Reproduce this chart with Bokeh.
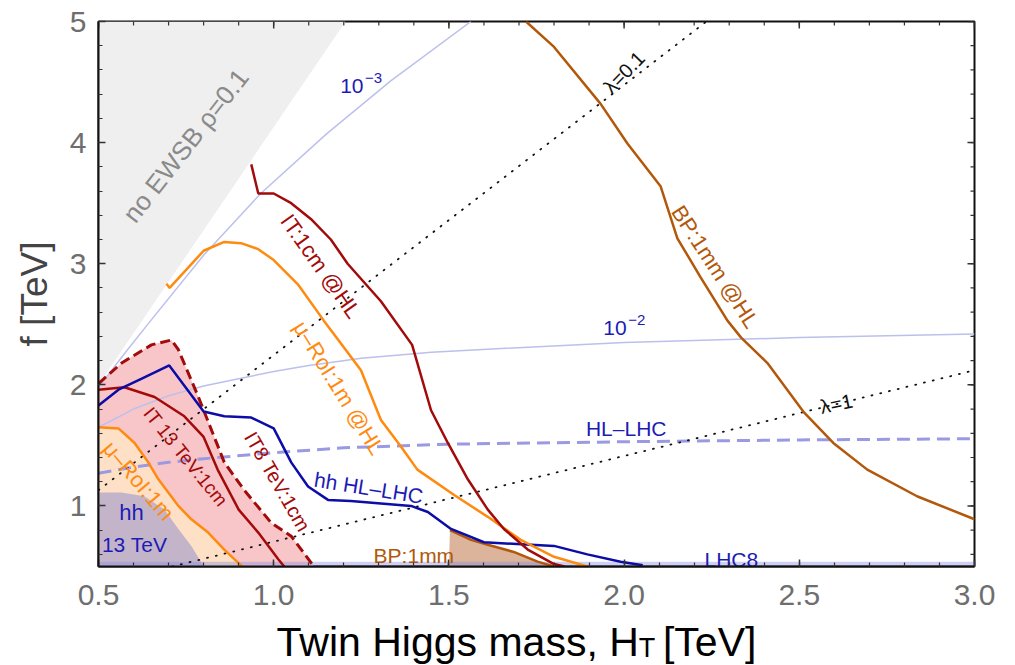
import numpy as np
from bokeh.plotting import figure
from bokeh.models import Range1d, FixedTicker
from bokeh.layouts import column
from bokeh.core.properties import value
from bokeh.embed import file_html
from bokeh.resources import INLINE

# ---------------- data ----------------
# shaded "no EWSB rho=0.1" region
noewsb_x = [0.5, 1.205, 0.5]
noewsb_y = [2.0, 5.0, 5.0]

# light blue contours 10^-3 and 10^-2
c3_x = [0.5, 0.58, 0.649, 0.8, 0.963, 1.15, 1.334, 1.563]
c3_y = [1.98, 2.28, 2.53, 3.07, 3.58, 4.07, 4.51, 5.0]
c2_x = [0.5, 0.6, 0.7, 0.8, 0.9, 1.0, 1.1, 1.25, 1.45, 1.65, 2.0, 2.5, 3.0]
c2_y = [1.65, 1.80, 1.91, 1.99, 2.05, 2.11, 2.16, 2.22, 2.27, 2.30, 2.35, 2.39, 2.42]

# HL-LHC dashed contour
hl_x = [0.5, 0.6, 0.7, 0.8, 1.0, 1.2, 1.5, 2.0, 2.5, 3.0]
hl_y = [1.27, 1.32, 1.36, 1.39, 1.44, 1.48, 1.51, 1.53, 1.545, 1.555]

# lambda dotted lines
lam01_x = [0.5, 2.235]
lam01_y = [1.13, 5.0]
lam1_x = [0.71, 3.0]
lam1_y = [0.5, 2.12]

# hh HL-LHC
hhhl_x = [0.5, 0.557, 0.622, 0.702, 0.80, 0.859, 0.936, 1.0, 1.05, 1.098, 1.155, 1.22,
          1.392, 1.44, 1.506, 1.60, 1.80, 1.895, 1.99, 2.053]
hhhl_y = [1.83, 1.96, 2.05, 2.16, 1.78, 1.74, 1.73, 1.64, 1.36, 1.16, 1.05, 1.04,
          1.0, 0.95, 0.81, 0.70, 0.67, 0.60, 0.54, 0.51]

# IT:1cm @HL
ithl_x = [0.936, 0.956, 1.0, 1.05, 1.106, 1.163, 1.211, 1.306, 1.395, 1.449, 1.497,
          1.554, 1.611, 1.657, 1.725, 1.80, 1.83]
ithl_y = [3.82, 3.58, 3.58, 3.50, 3.37, 3.20, 3.00, 2.69, 2.33, 1.79, 1.52,
          1.22, 0.97, 0.81, 0.64, 0.52, 0.50]

# mu-RoI:1m @HL
murhl_x = [0.694, 0.703, 0.80, 0.859, 0.907, 0.956, 1.0, 1.069, 1.143, 1.20, 1.249,
           1.306, 1.363, 1.41, 1.515, 1.611, 1.705, 1.80, 1.895]
murhl_y = [2.835, 2.80, 3.107, 3.18, 3.17, 3.12, 3.03, 2.83, 2.53, 2.31, 2.12,
           1.71, 1.49, 1.30, 1.09, 0.91, 0.72, 0.58, 0.50]

# BP:1mm @HL
bphl_x = [1.72, 1.80, 1.933, 2.01, 2.104, 2.152, 2.218, 2.295, 2.334, 2.409, 2.514,
          2.597, 2.694, 2.836, 3.0]
bphl_y = [5.0, 4.79, 4.32, 3.99, 3.64, 3.21, 2.89, 2.53, 2.39, 2.18, 1.77,
          1.52, 1.30, 1.08, 0.89]

# IT 13 TeV:1cm
it13_x = [0.5, 0.574, 0.66, 0.745, 0.80, 0.84, 0.90, 0.956, 1.013, 1.03]
it13_y = [1.96, 1.98, 1.90, 1.74, 1.57, 1.30, 0.97, 0.78, 0.56, 0.50]

# IT8 TeV:1cm (dashed, filled)
it8_x = [0.5, 0.566, 0.651, 0.708, 0.728, 0.785, 0.859, 0.916, 0.993, 1.05, 1.107, 1.115]
it8_y = [2.01, 2.18, 2.33, 2.37, 2.29, 1.90, 1.36, 1.13, 0.86, 0.75, 0.53, 0.50]

# mu-RoI:1m (filled)
mur_x = [0.5, 0.557, 0.603, 0.642, 0.671, 0.728, 0.765, 0.813, 0.859, 0.899, 0.91]
mur_y = [1.65, 1.64, 1.52, 1.36, 1.22, 1.00, 0.89, 0.78, 0.64, 0.53, 0.50]

# hh 13 TeV excluded region
hh13_x = [0.5, 0.566, 0.631, 0.688, 0.728, 0.765, 0.794, 0.80]
hh13_y = [1.11, 1.11, 1.08, 0.97, 0.81, 0.67, 0.53, 0.50]

# BP:1mm excluded region
bp_x = [1.5, 1.503, 1.563, 1.611, 1.685, 1.753, 1.80]
bp_y = [0.5, 0.80, 0.72, 0.68, 0.62, 0.54, 0.50]

# LHC8 band
lhc8_x = [0.5, 3.0]
lhc8_top = [0.54, 0.54]

x_major = [0.5, 1.0, 1.5, 2.0, 2.5, 3.0]
x_minor = [round(0.5 + 0.1 * i, 2) for i in range(26)]
y_major = [1, 2, 3, 4, 5]
y_minor = [round(0.6 + 0.2 * i, 2) for i in range(23)]
x_tick_labels = ["0.5", "1.0", "1.5", "2.0", "2.5", "3.0"]

# text labels: text, x, y, angle(deg), color, size
RED = "#a30a0a"
ORANGE = "#ff8a10"
BROWN = "#b3580a"
DBLUE = "#0c0ca6"
TBLUE = "#1c1cb4"
labels = [
    ("no EWSB ρ=0.1", 0.749, 3.975, 52, "#8a8a8a", "26px"),
    ("IT:1cm @HL", 1.134, 2.98, -54.6, RED, "22px"),
    ("μ–RoI:1m @HL", 1.186, 1.975, -58.4, ORANGE, "22px"),
    ("BP:1mm @HL", 2.26, 2.975, -57, BROWN, "22px"),
    ("hh HL–LHC", 1.271, 1.15, -9, TBLUE, "21px"),
    ("HL–LHC", 2.006, 1.636, 0, TBLUE, "21px"),
    ("BP:1mm", 1.40, 0.59, 0, BROWN, "21px"),
    ("LHC8", 2.306, 0.56, 0, TBLUE, "21px"),
    ("λ=0.1", 2.0, 4.58, 46, "#111111", "20px"),
    ("λ=1", 2.606, 1.843, 12, "#111111", "20px"),
    ("IT 13 TeV:1cm", 0.749, 1.405, -51, RED, "19px"),
    ("IT8 TeV:1cm", 1.011, 1.20, -60, RED, "20px"),
    ("μ–RoI:1m", 0.614, 1.207, -49.6, ORANGE, "22px"),
    ("hh", 0.594, 0.95, 0, TBLUE, "22px"),
    ("13 TeV", 0.603, 0.678, 0, TBLUE, "21px"),
    ("10", 1.223, 4.47, 0, TBLUE, "21px"),
    ("−3", 1.285, 4.535, 0, TBLUE, "15px"),
    ("10", 1.974, 2.47, 0, TBLUE, "21px"),
    ("−2", 2.036, 2.535, 0, TBLUE, "15px"),
]

FONT = "Liberation Sans"

# ---------------- main figure ----------------
p = figure(width=1015, height=610, output_backend="svg", toolbar_location=None,
           x_range=Range1d(0.5, 3.0), y_range=Range1d(0.5, 5.0),
           min_border_left=98, min_border_right=41, min_border_top=21,
           min_border_bottom=44)
p.grid.visible = False
p.outline_line_color = "#111111"
p.outline_line_width = 2
p.background_fill_color = "white"
p.border_fill_color = "white"

# regions
p.patch(noewsb_x, noewsb_y, fill_color="#efefef", line_color=None)
p.varea(x=it8_x, y1=[0.5] * len(it8_x), y2=it8_y, fill_color="#f8c6c8")
p.varea(x=mur_x, y1=[0.5] * len(mur_x), y2=mur_y, fill_color="#fde0c6")
p.varea(x=hh13_x, y1=[0.5] * len(hh13_x), y2=hh13_y, fill_color="#c4b4c9")
p.varea(x=bp_x, y1=[0.5] * len(bp_x), y2=bp_y, fill_color="#dbb49b")
p.varea(x=lhc8_x, y1=[0.5, 0.5], y2=lhc8_top, fill_color="#8890e0", fill_alpha=0.42)

# thin contours
p.line(c3_x, c3_y, line_color="#bcc0ec", line_width=1.5)
p.line(c2_x, c2_y, line_color="#bcc0ec", line_width=1.5)
p.line(hl_x, hl_y, line_color="#9a9ae2", line_width=3, line_dash="13 7")
p.line(lam01_x, lam01_y, line_color="#111111", line_width=1.8, line_dash="1 8", line_cap="round")
p.line(lam1_x, lam1_y, line_color="#111111", line_width=1.8, line_dash="1 8", line_cap="round")

# main curves
p.line(bp_x[1:], bp_y[1:], line_color=BROWN, line_width=2.5)
p.line(mur_x, mur_y, line_color=ORANGE, line_width=2.5)
p.line(it8_x, it8_y, line_color=RED, line_width=3, line_dash="10 5")
p.line(it13_x, it13_y, line_color=RED, line_width=2.5)
p.line(hhhl_x, hhhl_y, line_color=DBLUE, line_width=2.5)
p.line(murhl_x, murhl_y, line_color=ORANGE, line_width=2.5)
p.line(ithl_x, ithl_y, line_color=RED, line_width=2.5)
p.line(bphl_x, bphl_y, line_color=BROWN, line_width=2.5)

for t, x, y, a, c, s in labels:
    p.text(x=[x], y=[y], text=[t], angle=a, angle_units="deg", text_color=c,
           text_font=value(FONT), text_font_size=s, text_align="center",
           text_baseline="middle")

# mirrored inward ticks on the top and right frame edges
xmaj_len, xmin_len = 7 / 121.0, 4 / 121.0
ymaj_len, ymin_len = 7 / 350.0, 4 / 350.0
tick_kw = dict(line_color="#333333")
p.segment(x0=x_major, y0=[5.0] * len(x_major), x1=x_major,
          y1=[5.0 - xmaj_len] * len(x_major), line_width=1.5, **tick_kw)
p.segment(x0=x_minor, y0=[5.0] * len(x_minor), x1=x_minor,
          y1=[5.0 - xmin_len] * len(x_minor), line_width=1.2, **tick_kw)
p.segment(x0=[3.0] * len(y_major), y0=y_major, x1=[3.0 - ymaj_len] * len(y_major),
          y1=y_major, line_width=1.5, **tick_kw)
p.segment(x0=[3.0] * len(y_minor), y0=y_minor, x1=[3.0 - ymin_len] * len(y_minor),
          y1=y_minor, line_width=1.2, **tick_kw)

# axes
def style(ax, ticks_major, ticks_minor):
    ax.ticker = FixedTicker(ticks=ticks_major, minor_ticks=ticks_minor)
    ax.major_tick_in = 7
    ax.major_tick_out = 0
    ax.minor_tick_in = 4
    ax.minor_tick_out = 0
    ax.major_tick_line_color = "#333333"
    ax.minor_tick_line_color = "#333333"
    ax.major_tick_line_width = 1.5
    ax.minor_tick_line_width = 1.2
    ax.axis_line_color = "#111111"
    ax.axis_line_width = 2
    ax.major_label_text_font = FONT
    ax.major_label_text_font_size = "30px"
    ax.major_label_text_color = "#6e6e6e"

style(p.xaxis[0], x_major, x_minor)
p.xaxis[0].major_label_overrides = dict(zip(x_major, x_tick_labels))
p.xaxis[0].major_label_standoff = 18
style(p.yaxis[0], y_major, y_minor)
p.yaxis[0].major_label_standoff = 12
p.yaxis[0].axis_label = "f [TeV]"
p.yaxis[0].axis_label_text_font = FONT
p.yaxis[0].axis_label_text_font_size = "37px"
p.yaxis[0].axis_label_text_font_style = "normal"
p.yaxis[0].axis_label_text_color = "#444444"
p.yaxis[0].axis_label_standoff = 12

# ---------------- x-axis title strip (with subscript T) ----------------
q = figure(width=1015, height=55, output_backend="svg", toolbar_location=None,
           x_range=Range1d(0, 1015), y_range=Range1d(0, 55),
           min_border_left=0, min_border_right=0, min_border_top=0, min_border_bottom=0,
           x_axis_location=None, y_axis_location=None)
q.grid.visible = False
q.outline_line_color = None
q.border_fill_color = "white"
q.background_fill_color = "white"
title_parts = [("Twin Higgs mass, H", 626, 24, "right", "41px"),
               ("T", 626, 18, "left", "27px"),
               ("[TeV]", 654, 24, "left", "41px")]
for t, x, y, al, s in title_parts:
    q.text(x=[x], y=[y], text=[t], text_align=al, text_baseline="alphabetic",
           text_font=value(FONT), text_font_size=s, text_color="#000000")

open("out.html", "w").write(file_html(column(p, q, spacing=0), INLINE))
